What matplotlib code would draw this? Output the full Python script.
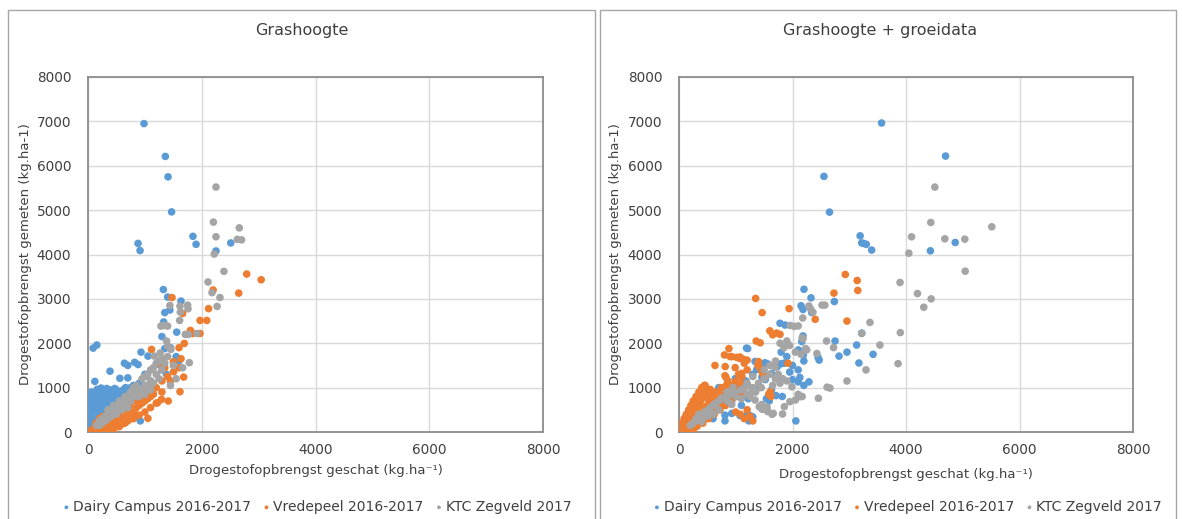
import matplotlib
matplotlib.use("Agg")
import matplotlib.pyplot as plt
from matplotlib.patches import Rectangle

# ---------------- data (estimated kg/ha, measured kg/ha) ----------------
series_names = ["Dairy Campus 2016-2017", "Vredepeel 2016-2017", "KTC Zegveld 2017"]
series_colors = ["#5B9BD5", "#ED7D31", "#A5A5A5"]
panel_titles = ["Grashoogte", "Grashoogte + groeidata"]
x_ticks = [0, 2000, 4000, 6000, 8000]
y_ticks = [0, 1000, 2000, 3000, 4000, 5000, 6000, 7000, 8000]

dc_left = [
    (985, 6950), (1360, 6210), (1407, 5750), (1470, 4960), (880, 4250), (915, 4090), (1845, 4410),
    (1900, 4230), (2510, 4260), (2250, 4080), (1325, 3210), (1400, 3040), (1635, 2950), (1440, 2750),
    (1350, 2690), (1330, 2480), (1560, 2250), (1300, 2150), (1350, 1880), (1450, 1900), (1550, 1700),
    (1600, 1600), (932, 1800), (1055, 1710), (1230, 1530), (640, 1550), (700, 1500), (820, 1570),
    (880, 1520), (387, 1370), (120, 1140), (560, 1210), (700, 1220), (1000, 1300), (1100, 1150),
    (1300, 1400), (1380, 1300), (90, 1890), (155, 1960), (60, 900), (170, 880), (15, 620), (920, 250),
    (20, 50), (30, 150), (70, 30), (100, 100), (150, 150), (60, 250), (100, 300), (10, 420), (40, 350),
    (150, 450), (60, 500), (120, 600), (50, 700), (80, 820), (120, 750), (200, 700), (220, 880),
    (160, 960), (230, 990), (180, 250), (200, 400), (250, 350), (250, 560), (280, 760), (300, 900),
    (270, 620), (320, 650), (300, 500), (350, 550), (350, 820), (330, 980), (380, 700), (380, 560),
    (400, 880), (400, 600), (420, 950), (440, 640), (450, 760), (480, 850), (470, 980), (500, 950),
    (530, 700), (520, 880), (550, 820), (580, 760), (600, 900), (620, 950), (660, 1000), (700, 850),
    (750, 940), (800, 1050), (850, 900), (900, 1100), (700, 900), (650, 800), (250, 200), (320, 380),
    (750, 1000), (800, 850), (600, 700), (20, 250), (90, 450), (180, 560), (30, 800), (260, 470),
    (140, 680), (200, 850), (420, 780), (360, 920),
]
vp_left = [
    (2790, 3560), (3045, 3430), (2650, 3130), (2200, 3200), (2120, 2780), (1477, 3030), (1970, 2514),
    (2088, 2514), (1664, 2672), (1800, 2290), (1840, 2220), (1970, 2220), (1693, 1996), (1117, 1861),
    (1635, 1651), (1605, 1448), (1500, 1583), (1505, 1358), (1682, 1238), (1617, 908), (1223, 660),
    (1293, 735), (1411, 698), (1053, 308), (1250, 1550), (1350, 1450), (1400, 1250), (1300, 1150),
    (1200, 1000), (1150, 850), (1450, 1150), (1300, 900), (1100, 1100), (1050, 950), (1600, 1900),
    (50, 20), (100, 30), (150, 50), (200, 80), (250, 100), (300, 120), (350, 150), (400, 200),
    (450, 220), (500, 260), (550, 300), (600, 350), (650, 400), (700, 420), (750, 450), (800, 500),
    (850, 550), (900, 600), (950, 650), (1000, 700), (1050, 750), (1100, 800), (120, 100), (180, 150),
    (220, 200), (280, 250), (320, 280), (380, 320), (430, 380), (480, 420), (530, 460), (580, 500),
    (630, 550), (680, 580), (730, 620), (780, 700), (830, 720), (880, 760), (930, 820), (980, 880),
    (160, 0), (240, 30), (330, 60), (420, 100), (510, 150), (600, 180), (700, 250), (800, 300),
    (900, 380), (1000, 450), (1100, 550), (1200, 650), (80, 60), (140, 200), (200, 300), (260, 350),
    (350, 420), (300, 20), (450, 50), (550, 120), (650, 200), (750, 300), (850, 380),
]
ktc_left = [
    (2250, 5520), (2204, 4730), (2660, 4600), (2250, 4400), (2625, 4340), (2700, 4330), (2220, 4010),
    (2390, 3620), (2110, 3380), (2180, 3140), (2320, 3030), (2270, 2830), (1752, 2859), (1758, 2777),
    (1617, 2837), (1440, 2852), (1623, 2702), (1611, 2514), (1282, 2387), (1340, 2400), (1400, 2387),
    (1711, 2200), (1764, 2200), (1917, 2220), (1382, 2050), (1400, 1936), (1458, 1861), (1270, 1780),
    (1165, 1711), (1782, 1561), (1664, 1448), (150, 150), (200, 250), (250, 200), (300, 350),
    (350, 300), (400, 450), (450, 400), (500, 550), (550, 500), (600, 650), (650, 600), (700, 750),
    (750, 700), (800, 850), (850, 800), (900, 950), (950, 900), (1000, 1050), (1050, 1000),
    (1100, 1150), (1150, 1100), (1200, 1300), (1250, 1200), (700, 550), (800, 1000), (900, 800),
    (1000, 1250), (1100, 1400), (1200, 1550), (1300, 1650), (1150, 1450), (1050, 1300), (600, 500),
    (500, 400), (400, 350), (300, 250), (250, 300), (200, 150), (350, 500), (450, 600), (550, 700),
    (650, 800), (750, 900), (850, 1050), (950, 1200), (1000, 850), (1100, 950), (1300, 1400),
    (1350, 1550), (1400, 1700), (1250, 1600), (1500, 1500), (1550, 1200), (1450, 1050),
]
dc_right = [
    (3570, 6963), (4697, 6218), (2554, 5760), (2652, 4955), (3192, 4421), (3220, 4260), (3257, 4248),
    (3300, 4230), (3395, 4100), (4430, 4083), (4867, 4271), (2202, 3216), (2326, 3023), (2737, 2940),
    (2150, 2845), (2185, 2760), (2338, 2690), (1780, 2450), (1870, 2410), (2185, 2165), (2163, 2038),
    (2750, 2050), (3130, 1960), (3220, 2230), (2960, 1800), (2820, 1710), (3420, 1750), (3170, 1555),
    (2470, 1620), (2450, 1680), (2190, 1730), (2104, 1850), (1210, 1880), (2130, 1230), (2100, 1130),
    (2000, 1180), (2200, 1050), (2290, 1130), (2059, 250), (1800, 1540), (1730, 1470), (1564, 1534),
    (1800, 1800), (1900, 1700), (2000, 1500), (2100, 1400), (1950, 1350), (1850, 1550), (2200, 1600),
    (1190, 1890), (1340, 1590), (1370, 1410), (1515, 1560), (1460, 1240), (1520, 1180), (1630, 1320),
    (1630, 950), (990, 1200), (1025, 1000), (810, 850), (930, 700), (469, 895), (1160, 850),
    (1220, 750), (1200, 390), (1300, 340), (1250, 370), (1075, 370), (810, 250), (590, 650),
    (650, 560), (760, 790), (830, 700), (1180, 1150), (1300, 1300), (1450, 1450), (1590, 700),
    (1710, 820), (1820, 800), (810, 380), (930, 420), (1180, 330), (1230, 250), (1540, 750),
    (405, 420), (530, 380), (300, 600), (200, 300), (100, 200), (350, 800), (700, 1000), (600, 300),
    (1400, 1000), (1100, 600),
]
vp_right = [
    (2930, 3550), (3140, 3414), (3150, 3190), (2730, 3130), (1350, 3010), (1465, 2690), (1940, 2780),
    (2400, 2540), (2960, 2500), (1600, 2280), (1650, 2190), (1720, 2230), (1780, 2200), (1360, 2050),
    (1430, 2010), (880, 1880), (932, 1699), (801, 1737), (634, 1500), (814, 1474), (827, 1233),
    (1401, 1587), (1414, 1474), (1920, 1550), (1609, 910), (1620, 800), (1580, 850), (1070, 1660),
    (1130, 1640), (1200, 1620), (1390, 1500), (1450, 1380), (1480, 1300), (990, 1450), (1050, 1300),
    (1110, 1250), (1000, 1150), (1080, 1100), (900, 1700), (1020, 1680), (1075, 1690), (1150, 1550),
    (1200, 1400), (1100, 1320), (810, 1270), (860, 1150), (840, 1060), (460, 1050), (550, 960),
    (630, 900), (500, 780), (530, 680), (650, 640), (800, 600), (50, 50), (80, 100), (100, 150),
    (120, 200), (150, 250), (180, 300), (200, 350), (220, 400), (250, 450), (280, 500), (300, 550),
    (330, 600), (350, 650), (380, 700), (400, 750), (420, 800), (450, 850), (480, 900), (500, 950),
    (60, 200), (90, 300), (130, 400), (170, 500), (210, 600), (250, 700), (300, 800), (350, 900),
    (400, 1000), (450, 1050), (100, 50), (150, 100), (200, 150), (250, 200), (300, 250), (350, 300),
    (400, 350), (450, 400), (500, 450), (550, 500), (600, 550), (650, 600), (700, 650), (750, 700),
    (800, 800), (850, 900), (900, 1000), (950, 1050), (1000, 950), (550, 700), (600, 850), (650, 750),
    (700, 900), (750, 1000), (500, 600), (130, 30), (220, 80), (320, 130), (420, 200), (520, 300),
    (620, 400), (720, 500), (820, 600), (920, 700), (1020, 800), (1100, 900), (1150, 1000),
    (1200, 1050), (1080, 400), (1150, 300), (1250, 350), (1300, 250), (1000, 450), (1200, 500),
    (70, 0), (150, 0), (250, 40), (50, 150), (120, 350), (180, 120), (280, 180), (380, 260),
    (140, 280), (240, 320), (340, 460), (440, 560), (20, 100), (200, 20),
]
ktc_right = [
    (4508, 5519), (4437, 4722), (4684, 4354), (4098, 4399), (5036, 4346), (5512, 4624), (4050, 4030),
    (5043, 3624), (3895, 3370), (4202, 3120), (4443, 3000), (4313, 2812), (3365, 2470), (3900, 2240),
    (3540, 1960), (3860, 1540), (3295, 1400), (2960, 1150), (2610, 1010), (2660, 990), (2456, 760),
    (2430, 1770), (2600, 2050), (2723, 1902), (3220, 2220), (2520, 2860), (2570, 2860), (2290, 2840),
    (2320, 2770), (2360, 2700), (2180, 2570), (1960, 2400), (2030, 2380), (2100, 2390), (2170, 2120),
    (2185, 2100), (1900, 2050), (2230, 1880), (2137, 797), (2052, 722), (1954, 684), (1857, 571),
    (1824, 406), (1661, 421), (1564, 459), (1466, 511), (1414, 571), (1780, 2000), (1850, 1900),
    (1950, 1950), (2050, 1800), (2150, 1750), (2250, 1850), (1690, 1460), (1750, 1300), (1830, 1200),
    (1780, 1100), (1700, 1200), (1650, 1050), (1990, 1020), (1900, 1150), (1215, 1040), (1280, 900),
    (1340, 720), (1250, 800), (760, 770), (850, 700), (930, 620), (1460, 620), (1550, 500),
    (1640, 400), (1550, 560), (2100, 850), (2170, 800), (330, 270), (400, 230), (510, 500),
    (250, 200), (200, 150), (300, 300), (350, 400), (450, 450), (550, 550), (600, 600), (650, 650),
    (700, 700), (800, 750), (900, 850), (1000, 900), (1100, 950), (1150, 1000), (1000, 800),
    (1100, 750), (900, 650), (700, 500), (600, 400), (500, 350), (400, 300), (1200, 1100),
    (1300, 1000), (1400, 1100), (1500, 1200), (1600, 1300), (1450, 1000), (1350, 900), (1200, 850),
    (1300, 1250), (1500, 1400), (1600, 1500), (1700, 1600), (950, 1000), (850, 900),
]

panels = [[dc_left, vp_left, ktc_left], [dc_right, vp_right, ktc_right]]

# ---------------- figure ----------------
W, H = 1182, 519
fig = plt.figure(figsize=(W / 100, H / 100), dpi=100)
plt.rcParams['font.family'] = ['DejaVu Sans']
txt = "#404040"

def fx(px):
    return px / W

def fy(py):
    return 1 - py / H

# panel borders
for (x0, x1) in [(8, 595), (600, 1176)]:
    fig.patches.append(Rectangle((fx(x0), fy(530)), fx(x1) - fx(x0), fy(10) - fy(530),
                                 transform=fig.transFigure, fill=False,
                                 edgecolor="#a6a6a6", linewidth=1.0))

axes_px = [(88, 543), (679, 1133)]
ylabel_x = [26, 616]
title_x = [302, 880]
xlabel_pad = [5, 8]

for i, (xa, xb) in enumerate(axes_px):
    ax = fig.add_axes([fx(xa), fy(432), fx(xb) - fx(xa), fy(77) - fy(432)])
    for pts, col, name in zip(panels[i], series_colors, series_names):
        xs = [p[0] for p in pts]
        ys = [p[1] for p in pts]
        ax.scatter(xs, ys, s=30, color=col, edgecolors="none", label=name, zorder=3)
    ax.set_xlim(0, 8000)
    ax.set_ylim(0, 8000)
    ax.set_xticks(x_ticks)
    ax.set_yticks(y_ticks)
    ax.grid(True, color="#d9d9d9", linewidth=1.0, zorder=0)
    ax.set_axisbelow(True)
    for sp in ax.spines.values():
        sp.set_color("#8c8c8c")
        sp.set_linewidth(1.3)
    ax.tick_params(length=0, labelsize=9.8, labelcolor=txt)
    ax.tick_params(axis="y", pad=12)
    ax.tick_params(axis="x", pad=8)
    ax.set_xlabel("Drogestofopbrengst geschat (kg.ha\u207b\u00b9)", fontsize=9.5, color=txt,
                  labelpad=xlabel_pad[i])
    fig.text(fx(ylabel_x[i]), fy(254), "Drogestofopbrengst gemeten (kg.ha-1)", rotation=90,
             ha="center", va="center", fontsize=9.5, color=txt)
    fig.text(fx(title_x[i]), fy(30), panel_titles[i], ha="center", va="center",
             fontsize=11.5, color=txt)
    leg = ax.legend(loc="center", bbox_to_anchor=(fx((xa + xb) / 2), fy(507)),
                    bbox_transform=fig.transFigure, ncol=3, frameon=False, fontsize=10,
                    handletextpad=0.0, columnspacing=0.6, markerscale=0.5,
                    borderaxespad=0, handlelength=1.0)
    for t in leg.get_texts():
        t.set_color(txt)

fig.savefig("out.png", dpi=100)
